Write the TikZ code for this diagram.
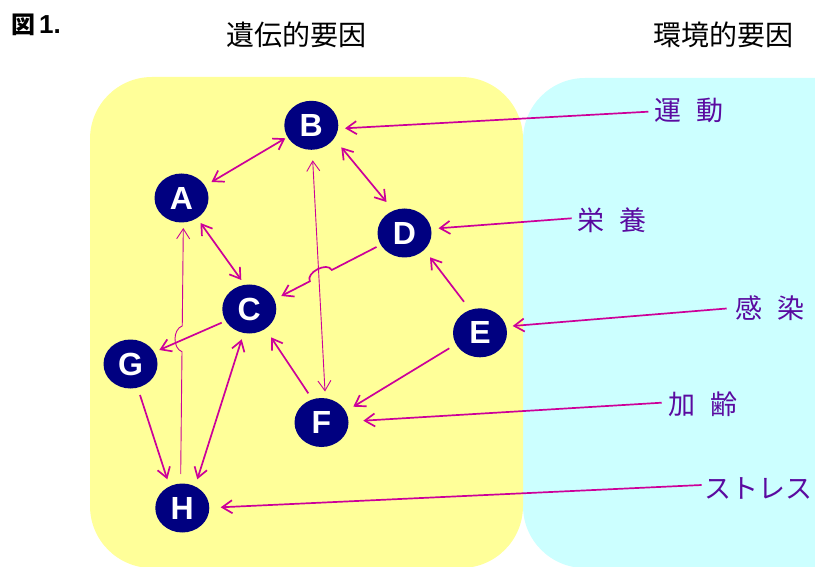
\documentclass[tikz,border=0pt]{standalone}
\usepackage{fontspec}
\setmainfont{Liberation Sans}
\newfontfamily\cjk{Noto Sans CJK JP}
\usetikzlibrary{arrows.meta,shapes.geometric,calc}
\definecolor{lineM}{RGB}{204,0,153}
\definecolor{navyN}{RGB}{0,0,128}
\definecolor{yel}{RGB}{255,255,153}
\definecolor{cya}{RGB}{204,255,255}
\definecolor{purp}{RGB}{90,10,160}
\begin{document}
\begin{tikzpicture}[x=1pt,y=-1pt,
  >={Straight Barb[length=10pt,width=13pt]},
  gnode/.style={ellipse, fill=navyN, minimum width=54pt, minimum height=49pt, inner sep=0pt,
    text=white, font=\fontsize{32}{32}\selectfont\bfseries},
  conn/.style={draw=lineM, line width=1.7pt},
  thinconn/.style={draw=lineM, line width=0.9pt},
  factor/.style={text=purp, font=\cjk\fontsize{27}{27}\selectfont, inner sep=0pt, anchor=west},
  head/.style={font=\cjk\fontsize{28}{28}\selectfont, inner sep=0pt}]
\useasboundingbox (0,0) rectangle (815,567);
\begin{scope}
  \clip (0,0) rectangle (815,567);
  \fill[cya, rounded corners=62pt] (523,78) rectangle (900,568);
  \fill[yel, rounded corners=62pt] (90,77) rectangle (523,568);
\end{scope}

% headers
\node[inner sep=0pt, anchor=west] (fig) at (11,24.5) {{\cjk\bfseries\fontsize{24}{24}\selectfont 図}\hspace{4pt}{\bfseries\fontsize{26}{26}\selectfont 1.}};
\node[head] (hg) at (296,34.5) {遺伝的要因};
\node[head] (he) at (723,34.5) {環境的要因};

% nodes
\node[gnode] (A) at (181.5,198) {A};
\node[gnode] (B) at (311.3,125.3) {B};
\node[gnode] (C) at (249.3,309) {C};
\node[gnode] (D) at (404.5,233) {D};
\node[gnode] (E) at (480,332.8) {E};
\node[gnode] (F) at (321.5,422.5) {F};
\node[gnode] (G) at (130.5,364) {G};
\node[gnode] (H) at (182.3,508) {H};

% factor labels
\node[factor] (l1) at (654,110.5) {運\hspace{15pt}動};
\node[factor] (l2) at (577,220.5) {栄\hspace{15pt}養};
\node[factor] (l3) at (735,308.5) {感\hspace{15pt}染};
\node[factor] (l4) at (668,404.5) {加\hspace{15pt}齢};
\node[factor] (l5) at (704,488.5) {ストレス};

% connectors among nodes
\draw[conn,<->] ($(A)+(30,-16)$) -- ($(B)+(-26,13)$);
\draw[conn,<->] ($(B)+(30,22)$) -- ($(D)+(-18,-31)$);
\draw[conn,<->] ($(A)+(19,25)$) -- ($(C)+(-8,-29)$);
\coordinate (dc0) at ($(D)+(-28,14)$);
\coordinate (dc1) at ($(C)+(32,-13)$);
\draw[conn,->] (dc0) -- ($(dc0)!0.47!(dc1)$) to[bend right=90] ($(dc0)!0.70!(dc1)$) -- (dc1);
\draw[thinconn,<->] ($(B)+(1.4,35)$) -- ($(F)+(3.5,-31)$);
\coordinate (ha0) at ($(H)+(-1.6,-34)$);
\coordinate (ha1) at ($(A)+(1.8,30)$);
\draw[thinconn,->] (ha0) -- ($(ha0)!0.497!(ha1)$) to[bend left=70] ($(ha0)!0.602!(ha1)$) -- (ha1);
\draw[conn,->] ($(C)+(-27.6,13.7)$) -- ($(G)+(28.8,-14)$);
\draw[conn,->] ($(G)+(9.5,31)$) -- ($(H)+(-15,-28.7)$);
\draw[conn,<->] ($(C)+(-7.6,30.3)$) -- ($(H)+(15,-28.7)$);
\draw[conn,->] ($(F)+(-13.2,-29.2)$) -- ($(C)+(21.7,28.3)$);
\draw[conn,->] ($(E)+(-30.7,15.5)$) -- ($(F)+(31.8,-15.8)$);
\draw[conn,->] ($(E)+(-16,-31)$) -- ($(D)+(25.5,24.3)$);

% connectors from factors
\draw[conn,->] ($(l1.west)+(-5.7,1.2)$) -- ($(B)+(33.7,3)$);
\draw[conn,->] ($(l2.west)+(-5.3,-2.2)$) -- ($(D)+(34,-4.7)$);
\draw[conn,->] ($(l3.west)+(-8.3,0)$) -- ($(E)+(32.7,-6.8)$);
\draw[conn,->] ($(l4.west)+(-6.3,-1.8)$) -- ($(F)+(41.8,-1.8)$);
\draw[conn,->] ($(l5.west)+(-2.3,-3.5)$) -- ($(H)+(38.4,-0.7)$);
\end{tikzpicture}
\end{document}
